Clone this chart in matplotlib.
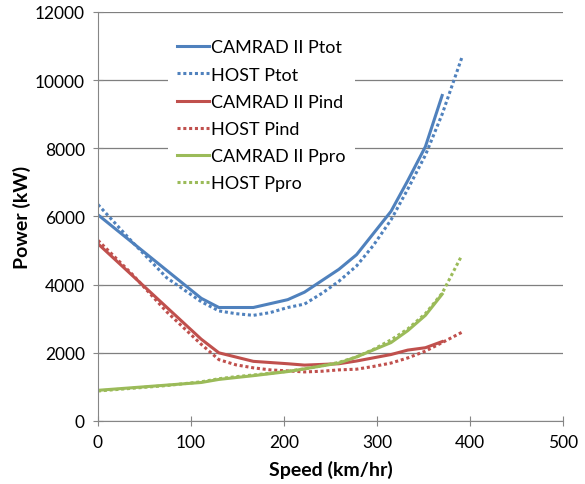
import matplotlib.pyplot as plt

# data (speed in km/hr, power in kW)
camrad_speed = [0, 111, 130, 167, 204, 222, 259, 278, 315, 333, 352, 370]
camrad_ptot = [6050, 3600, 3330, 3330, 3560, 3780, 4450, 4880, 6150, 7050, 8050, 9550]
camrad_pind = [5200, 2400, 2000, 1750, 1680, 1640, 1680, 1760, 1950, 2080, 2150, 2330]
camrad_ppro = [900, 1130, 1220, 1330, 1450, 1530, 1700, 1880, 2300, 2650, 3100, 3720]

host_speed = [0, 37, 74, 111, 130, 148, 167, 185, 204, 222, 241, 259, 278, 296, 315, 333, 352, 370, 391]
host_ptot = [6350, 5250, 4200, 3500, 3230, 3150, 3100, 3180, 3330, 3430, 3750, 4100,
             4550, 5150, 5900, 6800, 7800, 9000, 10650]
host_pind = [5300, 4300, 3200, 2250, 1800, 1650, 1560, 1500, 1470, 1440, 1460, 1500,
             1520, 1600, 1700, 1850, 2050, 2300, 2600]
host_ppro = [880, 960, 1040, 1150, 1240, 1300, 1350, 1400, 1460, 1530, 1620, 1720,
             1880, 2100, 2380, 2700, 3150, 3750, 4850]

blue = '#4F81BD'
red = '#C0504D'
green = '#9BBB59'

plt.rcParams['font.family'] = ['Lato', 'DejaVu Sans']

fig = plt.figure(figsize=(5.85, 4.85), dpi=100)
ax = fig.add_axes([0.1675, 0.1299, 0.795, 0.8433])

dot = (0, (1, 0.9))
lw = 2.2
ax.plot(camrad_speed, camrad_ptot, color=blue, lw=lw, label='CAMRAD II Ptot')
ax.plot(host_speed, host_ptot, color=blue, lw=lw, ls=dot, label='HOST Ptot')
ax.plot(camrad_speed, camrad_pind, color=red, lw=lw, label='CAMRAD II Pind')
ax.plot(host_speed, host_pind, color=red, lw=lw, ls=dot, label='HOST Pind')
ax.plot(camrad_speed, camrad_ppro, color=green, lw=lw, label='CAMRAD II Ppro')
ax.plot(host_speed, host_ppro, color=green, lw=lw, ls=dot, label='HOST Ppro')

ax.set_xlim(0, 500)
ax.set_ylim(0, 12000)
ax.set_xticks(range(0, 501, 100))
ax.set_yticks(range(0, 12001, 2000))
ax.grid(axis='y', color='#7f7f7f', lw=0.9)
ax.set_axisbelow(True)
for s in ['top', 'right']:
    ax.spines[s].set_visible(False)
for s in ['left', 'bottom']:
    ax.spines[s].set_color('#868686')
ax.tick_params(direction='inout', length=7, color='#868686', labelsize=12.5, pad=6)

ax.set_xlabel('Speed (km/hr)', fontsize=14, fontweight='bold', labelpad=7)
ax.set_ylabel('Power (kW)', fontsize=14, fontweight='bold', labelpad=3)

leg = ax.legend(loc='upper left', bbox_to_anchor=(0.15, 0.955), fontsize=13,
                frameon=True, facecolor='white', edgecolor='none', framealpha=1,
                fancybox=False, handlelength=1.8, handletextpad=0.1,
                labelspacing=0.62, borderpad=0.5, borderaxespad=0)

fig.savefig('out.png', dpi=100)
